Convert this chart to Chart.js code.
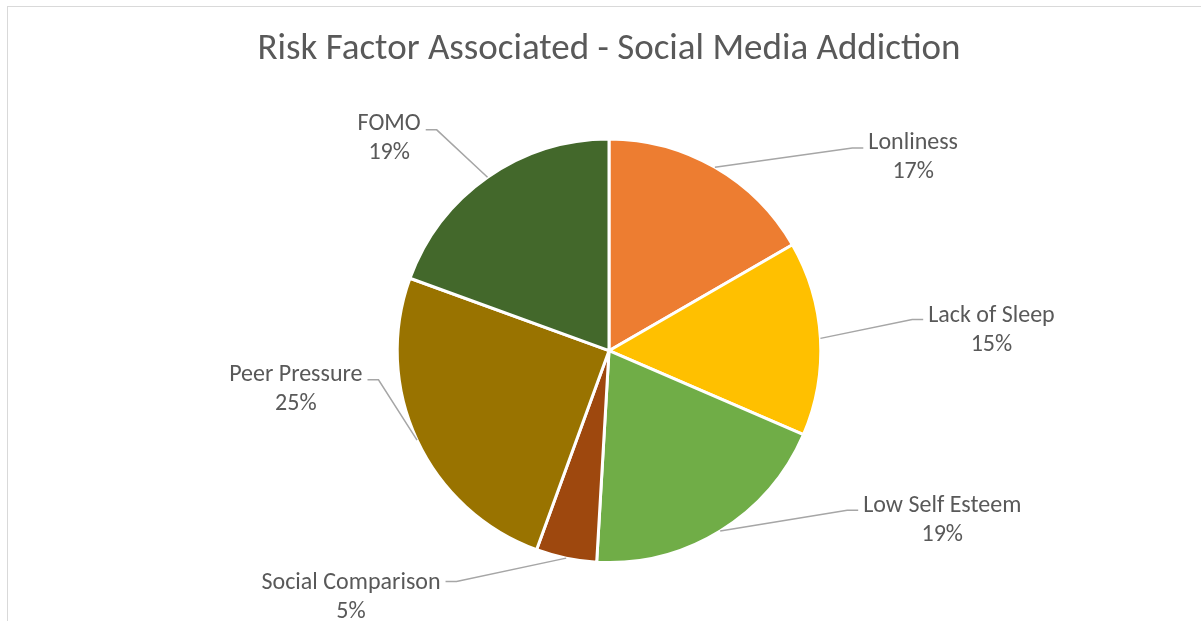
<!DOCTYPE html>
<html>
<head>
<meta charset="utf-8">
<script src="https://cdn.jsdelivr.net/npm/chart.js@4.4.1/dist/chart.umd.min.js"></script>
<style>
  html, body { margin: 0; padding: 0; background: #fff; }
  #wrap { width: 1201px; height: 621px; }
</style>
</head>
<body>
<div id="wrap"><canvas id="pie" width="1201" height="621"></canvas></div>
<script>
'use strict';

const TITLE = 'Risk Factor Associated - Social Media Addiction';
const categories = ['Lonliness', 'Lack of Sleep', 'Low Self Esteem', 'Social Comparison', 'Peer Pressure', 'FOMO'];
const counts = [36, 32, 42, 10, 54, 42];

const PALETTE = ['#ED7D31', '#FFC000', '#70AD47', '#9E480E', '#997300', '#43682B'];
const FONT = 'Carlito, Calibri, Lato, sans-serif';
const TEXT = '#595959';

// label anchor (text centre x, first baseline y) relative to the pie centre, for r = 211, plus hook offset
const SPOTS = [
  [303, -201, -1],
  [381, -29, -2],
  [332, 161, -2],
  [-257, 237, -7],
  [-312, 30, -1],
  [-219, -220, 0],
];

const callouts = {
  id: 'callouts',
  beforeDraw(chart) {
    const ctx = chart.ctx;
    ctx.save();
    ctx.strokeStyle = '#D9D9D9';
    ctx.lineWidth = 1;
    ctx.strokeRect(7.5, 6.5, 1400, 800);
    ctx.restore();
  },
  afterDatasetsDraw(chart) {
    const ctx = chart.ctx;
    const meta = chart.getDatasetMeta(0);
    const total = counts.reduce((a, b) => a + b, 0);
    ctx.save();
    ctx.font = '24px ' + FONT;
    meta.data.forEach((arc, i) => {
      const p = arc.getProps(['x', 'y', 'startAngle', 'endAngle', 'outerRadius'], true);
      const mid = (p.startAngle + p.endAngle) / 2;
      const sx = p.x + Math.cos(mid) * p.outerRadius;
      const sy = p.y + Math.sin(mid) * p.outerRadius;
      const k = p.outerRadius / 211;
      const [dx, dy, hook] = SPOTS[i];
      const tx = p.x + dx * k;
      const by = p.y + dy * k;
      const lines = [categories[i], Math.round(counts[i] / total * 100) + '%'];
      const w = Math.max(...lines.map((l) => ctx.measureText(l).width));
      const right = dx > 0;
      const hx = right ? tx - w / 2 - 5 : tx + w / 2 + 5;
      const hy = by + hook;
      const ex = right ? hx - 11 : hx + 11;
      ctx.beginPath();
      ctx.moveTo(sx, sy);
      ctx.lineTo(ex, hy);
      ctx.lineTo(hx, hy);
      ctx.strokeStyle = '#A6A6A6';
      ctx.lineWidth = 1.5;
      ctx.stroke();
      ctx.fillStyle = TEXT;
      ctx.textAlign = 'center';
      ctx.textBaseline = 'alphabetic';
      lines.forEach((l, j) => ctx.fillText(l, tx, by + j * 29));
    });
    ctx.restore();
  },
};

new Chart(document.getElementById('pie'), {
  type: 'pie',
  data: {
    labels: categories,
    datasets: [{
      data: counts,
      backgroundColor: PALETTE,
      borderColor: '#FFFFFF',
      borderWidth: 3,
    }],
  },
  options: {
    responsive: false,
    animation: false,
    devicePixelRatio: 1,
    layout: { padding: { left: 17, right: 0, top: 0, bottom: 57 } },
    plugins: {
      legend: { display: false },
      tooltip: { enabled: false },
      title: {
        display: true,
        text: TITLE,
        color: TEXT,
        font: { family: FONT, size: 37, weight: 'normal' },
        padding: { top: 28, bottom: 65 },
      },
    },
  },
  plugins: [callouts],
});
</script>
</body>
</html>
